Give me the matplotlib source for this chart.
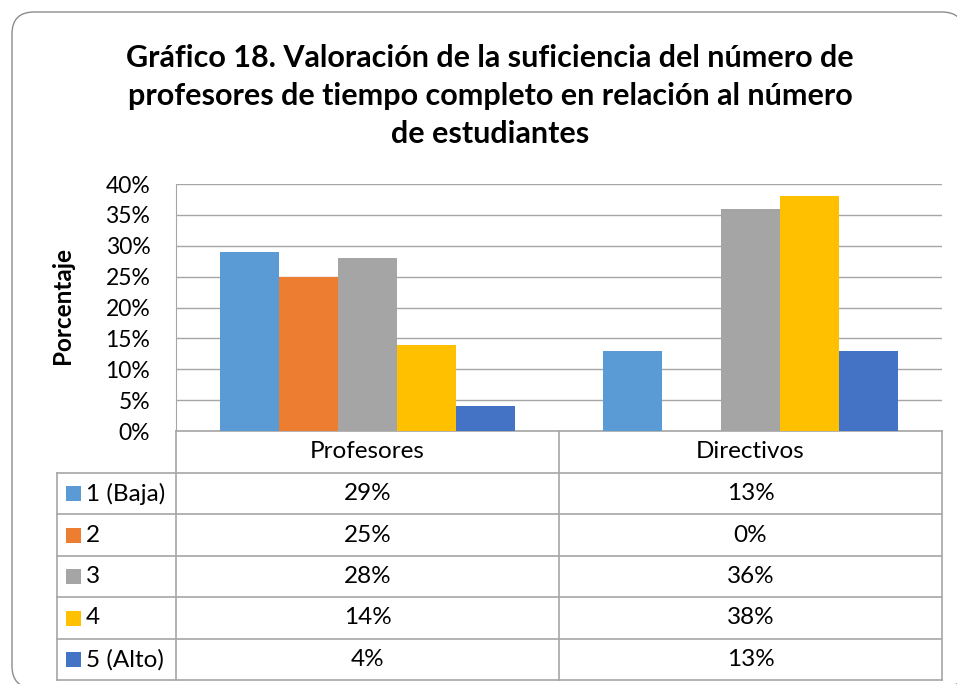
import matplotlib
matplotlib.use("Agg")
import matplotlib.pyplot as plt
from matplotlib.patches import FancyBboxPatch, Rectangle
import numpy as np

plt.rcParams['font.family'] = ['Lato', 'DejaVu Sans']

# datos
grupos = ['Profesores', 'Directivos']
series = ['1 (Baja)', '2', '3', '4', '5 (Alto)']
valores = [
    [29, 13],
    [25, 0],
    [28, 36],
    [14, 38],
    [4, 13],
]
colores = ['#5B9BD5', '#ED7D31', '#A5A5A5', '#FFC000', '#4472C4']
titulo = ('Gráfico 18. Valoración de la suficiencia del número de\n'
          'profesores de tiempo completo en relación al número\n'
          'de estudiantes')

W, H = 957, 684
gris = '#A6A6A6'
fs = 17.5


def caja(x0, y0, x1, y1):
    # pixeles (origen arriba a la izquierda) -> coordenadas de figura
    return [x0 / W, 1 - y1 / H, (x1 - x0) / W, (y1 - y0) / H]


fig = plt.figure(figsize=(W / 100, H / 100), dpi=100)

# capa de fondo en pixeles: marco, titulo, tabla
bg = fig.add_axes([0, 0, 1, 1], zorder=0)
bg.set_xlim(0, W)
bg.set_ylim(H, 0)
bg.axis('off')

marco = FancyBboxPatch((12, 12), 952, 676, boxstyle='round,pad=0,rounding_size=22',
                       fc='white', ec='#8C8C8C', lw=1.0)
bg.add_patch(marco)

bg.text(490, 96, titulo, ha='center', va='center', fontsize=22,
        fontweight='bold', linespacing=1.42, color='black')
bg.text(62, 305, 'Porcentaje', ha='center', va='center', rotation=90,
        fontsize=fs, fontweight='bold')

# grafico de barras
ax = fig.add_axes(caja(176, 184, 942, 431), zorder=1)
ax.patch.set_alpha(0)
n = len(series)
ancho = 1 / (n + 1.5)
x = np.arange(len(grupos)) + 0.5
for i, (s, v, c) in enumerate(zip(series, valores, colores)):
    ax.bar(x + (i - (n - 1) / 2) * ancho, np.array(v) / 100, ancho, color=c,
           edgecolor='none', zorder=2)
ax.set_xlim(0, len(grupos))
ax.set_ylim(0, 0.40)
ticks = np.arange(0, 0.41, 0.05)
ax.set_yticks(ticks)
ax.set_yticklabels([f'{int(round(t * 100))}%' for t in ticks])
ax.yaxis.grid(True, color=gris, lw=1)
ax.set_axisbelow(True)
ax.set_xticks([])
for lado in ['top', 'right', 'bottom']:
    ax.spines[lado].set_visible(False)
ax.spines['left'].set_color(gris)
ax.tick_params(axis='y', length=0, pad=18.5, labelsize=16.5)

# tabla de datos
filas = [431, 473, 514, 556, 597, 639, 680]
xcols = [57, 176, 559, 942]
lw = 1.2
bg.plot([176, 942], [431, 431], color=gris, lw=lw)
for xc in xcols[1:]:
    bg.plot([xc, xc], [431, 680], color=gris, lw=lw)
bg.plot([57, 57], [473, 680], color=gris, lw=lw)
for yf in filas[1:]:
    bg.plot([57, 942], [yf, yf], color=gris, lw=lw)

for j, g in enumerate(grupos):
    xc = (xcols[j + 1] + xcols[j + 2]) / 2
    bg.text(xc, (filas[0] + filas[1]) / 2, g, ha='center', va='center', fontsize=fs)

for i, (s, v, c) in enumerate(zip(series, valores, colores)):
    yc = (filas[i + 1] + filas[i + 2]) / 2
    bg.add_patch(Rectangle((66, yc - 7.5), 15, 15, fc=c, ec='none'))
    bg.text(86, yc, s, ha='left', va='center', fontsize=fs)
    for j in range(len(grupos)):
        xc = (xcols[j + 1] + xcols[j + 2]) / 2
        bg.text(xc, yc, f'{v[j]}%', ha='center', va='center', fontsize=fs)

fig.savefig('out.png', dpi=100)
